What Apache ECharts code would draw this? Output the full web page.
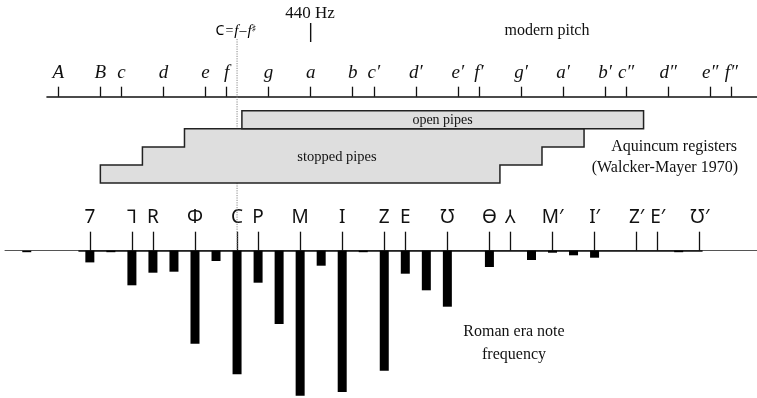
<!DOCTYPE html>
<html>
<head>
<meta charset="UTF-8">
<script src="https://cdn.jsdelivr.net/npm/echarts@6/dist/echarts.min.js"></script>
<style>
  html, body { margin: 0; padding: 0; background: #fff; }
  #container { width: 757px; height: 398px; }
</style>
</head>
<body>
<div id="container"></div>
<script>
// all positions are semitone steps counted from A (A = 0, a = 12 = 440 Hz)
var pitchNames = ['A', 'B', 'c', 'd', 'e', 'f', 'g', 'a', 'b', 'c\u2032', 'd\u2032', 'e\u2032', 'f\u2032', 'g\u2032', 'a\u2032', 'b\u2032', 'c\u2033', 'd\u2033', 'e\u2033', 'f\u2033'];
var pitchSteps = [0, 2, 3, 5, 7, 8, 10, 12, 14, 15, 17, 19, 20, 22, 24, 26, 27, 29, 31, 32];

var romanNames = ['7', '\u2142', 'R', '\u03A6', 'C', 'P', 'M', 'I', 'Z', 'E', '\u01B1', '\u03F4', '\u2144', 'M\u2032', 'I\u2032', 'Z\u2032', 'E\u2032', '\u01B1\u2032'];
var romanSteps = [1.5, 3.5, 4.5, 6.5, 8.5, 9.5, 11.5, 13.5, 15.5, 16.5, 18.5, 20.5, 21.5, 23.5, 25.5, 27.5, 28.5, 30.5];

// Roman era note frequency (relative units)
var freqSteps  = [-1.5, 1.5, 2.5, 3.5, 4.5, 5.5, 6.5, 7.5, 8.5, 9.5, 10.5, 11.5, 12.5, 13.5, 14.5, 15.5, 16.5, 17.5, 18.5, 20.5, 22.5, 23.5, 24.5, 25.5, 29.5];
var freqValues = [1.5, 11.7, 1.5, 34.6, 22, 21, 93, 10.3, 123.6, 32, 73.3, 145, 15, 141.3, 1.5, 120, 23, 39.6, 56, 16.3, 9.3, 2, 4.6, 7, 1.5];

// Aquincum registers (Walcker-Mayer 1970)
var openPipes = [8.73, 27.83];
var stoppedRows = [[6, 25], [4, 23], [2, 21]];   // left / right edge, top row first

var a440Step = 12;
var cBoundaryStep = 8.5;   // C = f - f#

var W = 757, H = 398;
var X0 = 58.3, K = 21.03;   // pixel of step 0, pixels per semitone
function stepAt(px) { return (px - X0) / K; }

function nameOf(steps, names) {
    return function (v) {
        for (var i = 0; i < steps.length; i++) {
            if (Math.abs(steps[i] - v) < 1e-6) return names[i];
        }
        return '';
    };
}

function stairOutline(rows, top) {
    var pts = [], i;
    for (i = rows.length - 1; i >= 0; i--) {
        pts.push([rows[i][0], top + i + 1]);
        pts.push([rows[i][0], top + i]);
    }
    for (i = 0; i < rows.length; i++) {
        pts.push([rows[i][1], top + i]);
        pts.push([rows[i][1], top + i + 1]);
    }
    return pts;
}

var serif = '"Liberation Serif", "DejaVu Serif", serif';
var sans = '"Noto Sans", "DejaVu Sans", sans-serif';
var ink = '#111';
var regFill = '#dedede';

var chart = echarts.init(document.getElementById('container'), null, { renderer: 'canvas' });

var option = {
    animation: false,
    backgroundColor: '#fff',
    grid: [
        { left: 47, right: 0, top: 96.7, height: 1 },       // modern pitch axis
        { left: 5, right: 0, top: 250.7, height: 147 },     // thin baseline + bars
        { left: 79, right: W - 702, top: 250.7, height: 1 }, // roman note axis
        { left: 0, right: 0, top: 110.7, height: 72.4 },    // registers
        { left: 0, right: 0, top: 0, height: H }            // overlay
    ],
    xAxis: [
        {
            gridIndex: 0, type: 'value', position: 'top',
            min: stepAt(47), max: stepAt(W),
            axisLine: { onZero: false, lineStyle: { color: ink, width: 1.6 } },
            axisTick: { customValues: pitchSteps, length: 10, lineStyle: { color: ink, width: 1.3 } },
            axisLabel: {
                customValues: pitchSteps, formatter: nameOf(pitchSteps, pitchNames),
                margin: 14, color: ink, fontFamily: serif, fontStyle: 'italic', fontSize: 19
            },
            splitLine: { show: false }
        },
        {
            gridIndex: 1, type: 'value', position: 'top',
            min: stepAt(5), max: stepAt(W),
            axisLine: { onZero: false, lineStyle: { color: '#555', width: 1 } },
            axisTick: { show: false }, axisLabel: { show: false }, splitLine: { show: false }
        },
        {
            gridIndex: 2, type: 'value', position: 'top',
            min: stepAt(79), max: stepAt(702),
            axisLine: { onZero: false, lineStyle: { color: ink, width: 1.6 } },
            axisTick: { customValues: romanSteps, length: 19, lineStyle: { color: ink, width: 1.3 } },
            axisLabel: {
                customValues: romanSteps, formatter: nameOf(romanSteps, romanNames),
                margin: 24, color: ink, fontFamily: sans, fontSize: 19
            },
            splitLine: { show: false }
        },
        { gridIndex: 3, type: 'value', min: stepAt(0), max: stepAt(W), show: false },
        { gridIndex: 4, type: 'value', min: stepAt(0), max: stepAt(W), show: false }
    ],
    yAxis: [
        { gridIndex: 0, type: 'value', show: false },
        { gridIndex: 1, type: 'value', min: 0, max: 147, inverse: true, show: false },
        { gridIndex: 2, type: 'value', show: false },
        { gridIndex: 3, type: 'value', min: 0, max: 4, inverse: true, show: false },
        { gridIndex: 4, type: 'value', min: 0, max: H, inverse: true, show: false }
    ],
    series: [
        {
            type: 'line', xAxisIndex: 4, yAxisIndex: 4, z: 1, silent: true,
            symbol: 'none',
            data: [[cBoundaryStep, 39], [cBoundaryStep, 250]],
            lineStyle: { color: '#888', width: 1, type: [1.2, 1.2] }
        },
        {
            type: 'line', xAxisIndex: 4, yAxisIndex: 4, z: 1, silent: true,
            symbol: 'none',
            data: [[a440Step, 23], [a440Step, 42]],
            lineStyle: { color: ink, width: 1.4 }
        },
        {
            type: 'bar', xAxisIndex: 1, yAxisIndex: 1, silent: true,
            barWidth: 9,
            data: freqSteps.map(function (s, i) { return [s, freqValues[i]]; }),
            itemStyle: { color: '#000' }
        },
        {
            type: 'custom', xAxisIndex: 3, yAxisIndex: 3, z: 3, silent: true, clip: false,
            data: [[0, 0]],
            renderItem: function (params, api) {
                var stopped = stairOutline(stoppedRows, 1).map(function (p) { return api.coord(p); });
                var o0 = api.coord([openPipes[0], 0]);
                var o1 = api.coord([openPipes[1], 1]);
                var lbl1 = api.coord([13.25, 2.55]);
                var lbl2 = api.coord([18.27, 0.55]);
                return {
                    type: 'group',
                    children: [
                        {
                            type: 'polygon', shape: { points: stopped },
                            style: { fill: regFill, stroke: '#222', lineWidth: 1.5 }
                        },
                        {
                            type: 'rect',
                            shape: { x: o0[0], y: o0[1], width: o1[0] - o0[0], height: o1[1] - o0[1] },
                            style: { fill: regFill, stroke: '#222', lineWidth: 1.5 }
                        },
                        {
                            type: 'text', x: lbl1[0], y: lbl1[1],
                            style: { text: 'stopped pipes', fill: ink, fontFamily: serif, fontSize: 14.5, align: 'center', verticalAlign: 'middle' }
                        },
                        {
                            type: 'text', x: lbl2[0], y: lbl2[1],
                            style: { text: 'open pipes', fill: ink, fontFamily: serif, fontSize: 14, align: 'center', verticalAlign: 'middle' }
                        }
                    ]
                };
            }
        }
    ],
    graphic: [
        {
            type: 'text', x: 310, y: 14,
            style: { text: '440 Hz', fill: ink, fontFamily: serif, fontSize: 17, align: 'center', verticalAlign: 'middle' }
        },
        {
            type: 'text', x: 236, y: 31,
            style: {
                text: '{c|C}{o|=}{f|f}{o|\u2013}{f|f}{s|\u266F}',
                align: 'center', verticalAlign: 'middle',
                rich: {
                    c: { fontFamily: sans, fontSize: 14, color: ink },
                    o: { fontFamily: serif, fontSize: 14, color: ink, padding: [0, 1] },
                    f: { fontFamily: serif, fontStyle: 'italic', fontSize: 15, color: ink },
                    s: { fontFamily: '"DejaVu Sans", sans-serif', fontSize: 10, color: ink, padding: [0, 0, 3, 0] }
                }
            }
        },
        {
            type: 'text', x: 547, y: 31,
            style: { text: 'modern pitch', fill: ink, fontFamily: serif, fontSize: 16, align: 'center', verticalAlign: 'middle' }
        },
        {
            type: 'text', x: 737, y: 147,
            style: { text: 'Aquincum registers', fill: ink, fontFamily: serif, fontSize: 16, align: 'right', verticalAlign: 'middle' }
        },
        {
            type: 'text', x: 738, y: 168,
            style: { text: '(Walcker-Mayer 1970)', fill: ink, fontFamily: serif, fontSize: 16, align: 'right', verticalAlign: 'middle' }
        },
        {
            type: 'text', x: 514, y: 343,
            style: { text: 'Roman era note\nfrequency', fill: ink, fontFamily: serif, fontSize: 16, lineHeight: 23, align: 'center', verticalAlign: 'middle' }
        }
    ]
};

chart.setOption(option);
</script>
</body>
</html>
